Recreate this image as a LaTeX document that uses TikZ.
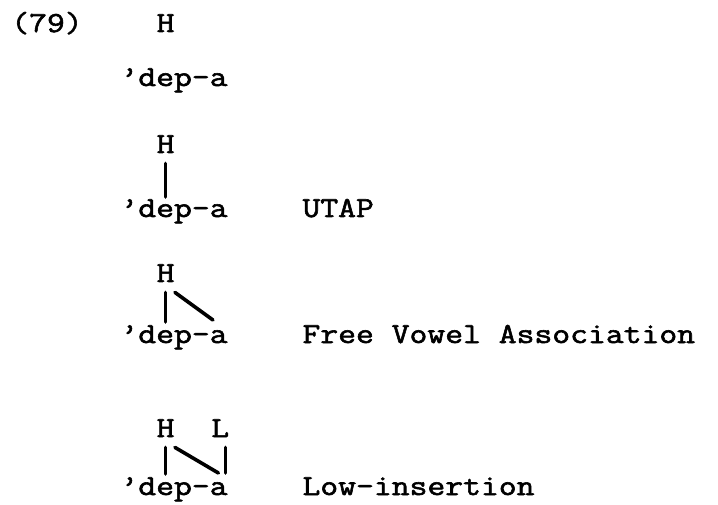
\documentclass[tikz,border=0pt]{standalone}
\usepackage{fontspec}
\setmonofont{Latin Modern Mono}[FakeStretch=1.195,FakeBold=2]
\usepackage{tikz}

\begin{document}
\begin{tikzpicture}[
      x=9.1pt,y=1pt,
      every node/.style={font=\ttfamily\fontsize{14.5}{17}\selectfont},
      seg/.style={
         anchor=base west,
         inner sep=0pt
      },
      tone/.style={
         anchor=base,
         inner xsep=0pt,
         inner ysep=5pt
      },
      rule/.style={
         anchor=base west,
         inner sep=0pt
      },
      point/.style={coordinate},
      assoc/.style={line width=1.8pt,line cap=round}
    ]
    \useasboundingbox (-1.099,0) rectangle (38.352,252);
    % underlying form
    \node (n11) [seg] at (-0.5,236) {(79)};
    \node (n12) [tone] at (8,236) {H};
    \node (n21) [seg] at (5.5,209) {’dep-a};
    % UTAP
    \node (n31) [tone] at (8,175.5) {H};
    \node (n41) [seg] at (5.5,143.5) {’dep-a};
    \node (n42) [rule] at (15.5,143.5) {UTAP};
    % free vowel association
    \node (n51) [tone] at (8,111) {H};
    \node (n61) [seg] at (5.5,80.5) {’dep-a};
    \node (n62) [rule] at (15.5,80.5) {Free Vowel Association};
    % low insertion
    \node (n71) [tone] at (8,33.5) {H};
    \node (n72) [tone] at (11,33.5) {L};
    \node (n81) [seg] at (5.5,4.5) {’dep-a};
    \node (n82) [rule] at (15.5,4.5) {Low-insertion};
    % docking points over the vowels
    \coordinate (e4) at (8,153.5);
    \coordinate (e6) at (8,91);
    \coordinate (a6) at (10.6,92);
    \coordinate (e8) at (8,15);
    \coordinate (a8) at (10.9,15.5);
    \coordinate (a8r) at (11.3,15.5);
    % association lines
    \draw[assoc] (n31.south) -- (e4);
    \draw[assoc] (n51.south) -- (e6);
    \draw[assoc] (n51.south east) -- (a6);
    \draw[assoc] (n71.south) -- (e8);
    \draw[assoc] (n71.south east) -- (a8);
    \draw[assoc] (n72.south -| a8r) -- (a8r);
\end{tikzpicture}
\end{document}
